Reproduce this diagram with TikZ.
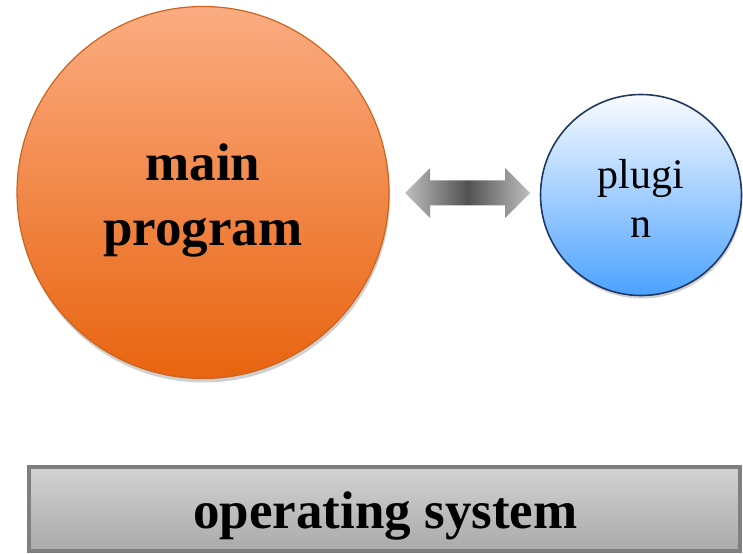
\documentclass[tikz,border=0pt]{standalone}
\usepackage{fontspec}
\setmainfont{Liberation Serif}
\usetikzlibrary{calc}

\definecolor{mainTop}{RGB}{251,172,130}
\definecolor{mainBot}{RGB}{232,100,15}
\definecolor{mainEdge}{RGB}{204,100,30}
\definecolor{plugTop}{RGB}{250,251,255}
\definecolor{plugBot}{RGB}{75,162,255}
\definecolor{plugEdge}{RGB}{31,56,100}
\definecolor{osTop}{RGB}{210,210,210}
\definecolor{osBot}{RGB}{170,170,170}
\definecolor{osEdge}{RGB}{127,127,127}
\definecolor{shadowGray}{RGB}{208,208,208}

\pgfdeclarehorizontalshading{linkshade}{100bp}{%
  color(0bp)=(black!25); color(25bp)=(black!25); color(50bp)=(black!68);
  color(75bp)=(black!25); color(100bp)=(black!25)}

\tikzset{
  blob/.style={circle, inner sep=0pt},
  castshadow/.style={fill=shadowGray, draw=none, circle, inner sep=0pt},
  bigtext/.style={font=\fontsize{53bp}{65bp}\selectfont\bfseries, align=center, inner sep=0pt},
  smalltext/.style={font=\fontsize{42bp}{49bp}\selectfont, align=center, inner sep=0pt},
}

\begin{document}
\begin{tikzpicture}[x=1bp, y=-1bp]
  \useasboundingbox (0,0) rectangle (743,554);

  % soft drop shadows under the two circles
  \node[castshadow, minimum size=372bp] at (204,196.5) {};
  \node[castshadow, minimum size=201bp] at (642,198) {};

  % main program
  \node (main) [blob, minimum size=372bp, top color=mainTop, bottom color=mainBot,
                draw=mainEdge, line width=1.2bp] at (203,192.5) {};
  \node (mainlbl) [bigtext] at ($(main.center)+(0,7.5)$) {main\\program};

  % plugin
  \node (plug) [blob, minimum size=201bp, top color=plugTop, bottom color=plugBot,
                draw=plugEdge, line width=1.6bp] at (641,195) {};
  \node (pluglbl) [smalltext] at ($(plug.center)+(0,3)$) {plugi\\n};

  % two-way block arrow between them
  \coordinate (link) at (467.5,193);
  \shade[shading=linkshade]
    ($(link)+(-62.5,0)$) -- ++(25,-25) -- ++(0,12.5) -- ++(75,0) -- ++(0,-12.5)
    -- ++(25,25) -- ++(-25,25) -- ++(0,-12.5) -- ++(-75,0) -- ++(0,12.5) -- cycle;

  % operating system bar
  \node (os) [rectangle, inner sep=0pt, minimum width=711bp, minimum height=84bp,
              top color=osTop, bottom color=osBot, draw=osEdge, line width=4bp]
              at (384.5,509) {};
  \node (oslbl) [font=\fontsize{53bp}{60bp}\selectfont\bfseries, inner sep=0pt,
                 anchor=base] at (385.5,528) {operating system};
\end{tikzpicture}
\end{document}
